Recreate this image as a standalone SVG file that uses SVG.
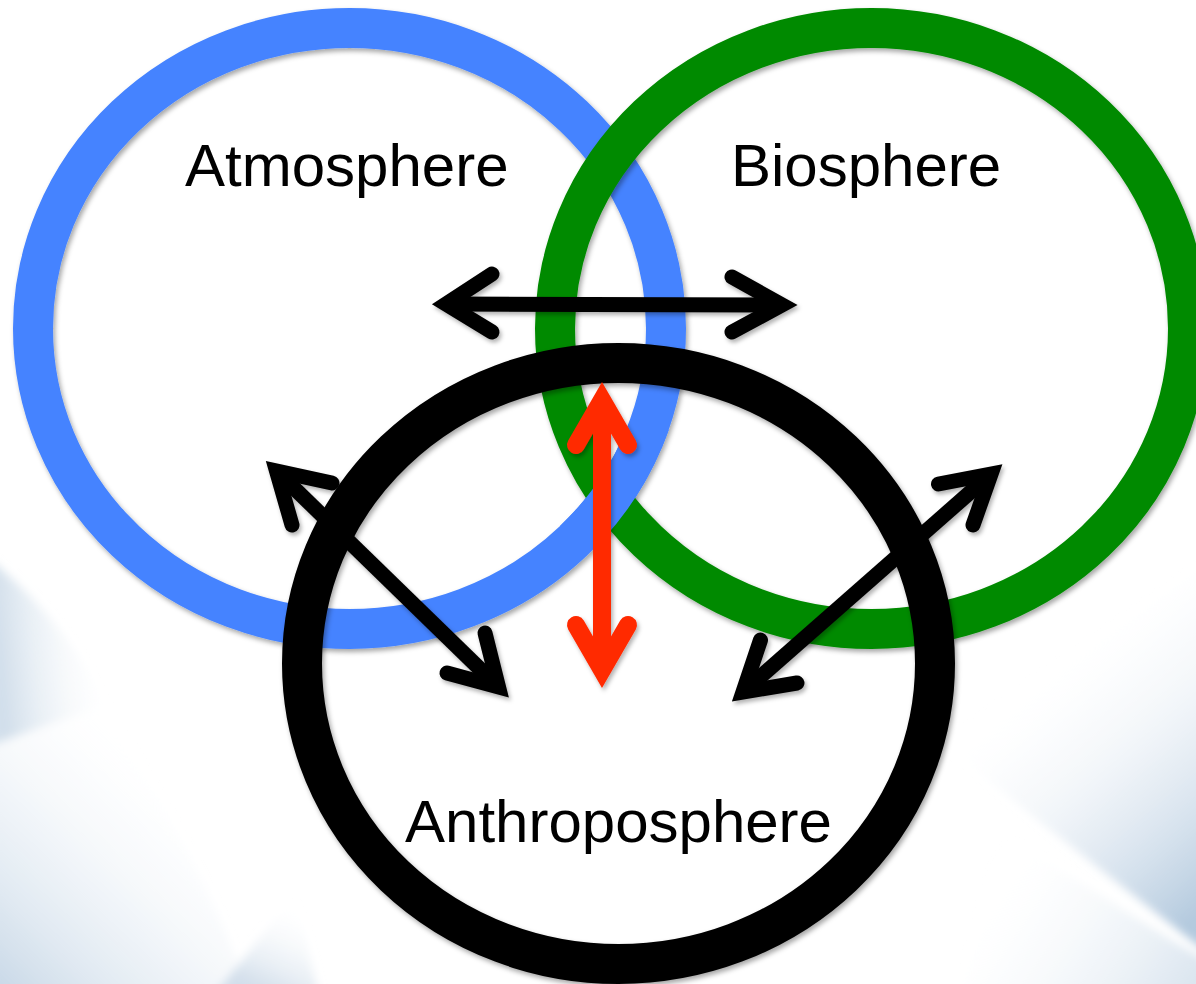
<svg xmlns="http://www.w3.org/2000/svg" width="1196" height="984" viewBox="0 0 1196 984">
  <defs>
    <style>
      .ring { fill: none; stroke-width: 40; }
      .label { font-family: "Liberation Sans", Arial, sans-serif; font-size: 60px; fill: #000; }
      .arrow { fill: none; stroke: #000; stroke-width: 15; stroke-linejoin: miter; stroke-miterlimit: 6; stroke-linecap: round; }
      .shaft { fill: none; stroke: #000; stroke-width: 15; stroke-linecap: butt; }
      .red { stroke: #FF2A00; stroke-width: 18; }
    </style>
    <filter id="sh" x="-10%" y="-10%" width="120%" height="120%">
      <feDropShadow dx="2" dy="3" stdDeviation="2.5" flood-color="#000" flood-opacity="0.35"/>
    </filter>
    <filter id="sha" x="-20%" y="-20%" width="140%" height="140%">
      <feDropShadow dx="2" dy="3" stdDeviation="2" flood-color="#000" flood-opacity="0.3"/>
    </filter>
    <filter id="soft" x="-20%" y="-20%" width="140%" height="140%">
      <feGaussianBlur stdDeviation="5"/>
    </filter>
    <linearGradient id="gBR" x1="1000" y1="690" x2="1196" y2="920" gradientUnits="userSpaceOnUse">
      <stop offset="0" stop-color="#ffffff" stop-opacity="0"/>
      <stop offset="1" stop-color="#b3c9de"/>
    </linearGradient>
    <linearGradient id="gBR2" x1="1000" y1="850" x2="1196" y2="984" gradientUnits="userSpaceOnUse">
      <stop offset="0" stop-color="#ffffff" stop-opacity="0"/>
      <stop offset="1" stop-color="#dae5ef"/>
    </linearGradient>
    <linearGradient id="gL" x1="110" y1="640" x2="0" y2="650" gradientUnits="userSpaceOnUse">
      <stop offset="0" stop-color="#ffffff" stop-opacity="0"/>
      <stop offset="1" stop-color="#d2dfeb"/>
    </linearGradient>
    <linearGradient id="gBL" x1="200" y1="780" x2="0" y2="984" gradientUnits="userSpaceOnUse">
      <stop offset="0" stop-color="#ffffff" stop-opacity="0"/>
      <stop offset="1" stop-color="#cad9e8"/>
    </linearGradient>
    <linearGradient id="gB" x1="290" y1="900" x2="250" y2="984" gradientUnits="userSpaceOnUse">
      <stop offset="0" stop-color="#ffffff" stop-opacity="0"/>
      <stop offset="1" stop-color="#d3dfeb"/>
    </linearGradient>
    <clipPath id="lowCross">
      <rect x="560" y="430" width="130" height="110"/>
    </clipPath>
  </defs>

  <g id="background">
    <rect x="0" y="0" width="1196" height="984" fill="#ffffff"/>
    <g filter="url(#soft)">
      <path d="M1210,560 C1130,620 1030,680 945,745 C1030,815 1120,885 1210,955 Z" fill="url(#gBR)"/>
      <path d="M1000,835 C1090,885 1150,930 1210,962 L1210,1000 L960,1000 Z" fill="url(#gBR2)"/>
      <path d="M-10,560 C40,600 80,650 105,705 L-10,745 Z" fill="url(#gL)"/>
      <path d="M-10,745 L105,705 C160,800 220,900 250,1000 L-10,1000 Z" fill="url(#gBL)"/>
      <path d="M210,1000 L295,895 L320,1000 Z" fill="url(#gB)"/>
    </g>
  </g>

  <g id="atmosphere">
    <ellipse class="ring" cx="349.5" cy="328.5" rx="316.5" ry="300.5" stroke="#4583FF" filter="url(#sh)"/>
    <text class="label" x="185" y="186">Atmosphere</text>
  </g>

  <g id="biosphere">
    <ellipse class="ring" cx="871.5" cy="328.5" rx="316.5" ry="300.5" stroke="#028A02" filter="url(#sh)"/>
    <text class="label" x="731" y="186">Biosphere</text>
  </g>

  <g id="atmosphere-overlap" clip-path="url(#lowCross)">
    <ellipse class="ring" cx="349.5" cy="328.5" rx="316.5" ry="300.5" stroke="#4583FF"/>
  </g>

  <g id="anthroposphere">
    <ellipse class="ring" cx="618.5" cy="663.5" rx="316.5" ry="300.5" stroke="#000" filter="url(#sh)"/>
    <text class="label" x="405" y="842">Anthroposphere</text>
  </g>

  <g id="connectors" filter="url(#sha)">
    <g id="atmo-bio">
      <path class="shaft" d="M446,304 L782,305"/>
      <path class="arrow" d="M492,274 L446,304 L492,332"/>
      <path class="arrow" d="M732,277 L782,305 L732,332"/>
    </g>
    <g id="atmo-anthro">
      <path class="shaft" d="M276.5,471 L498.5,687"/>
      <path class="arrow" d="M332,483 L276.5,471 L292,525"/>
      <path class="arrow" d="M485,633 L498.5,687 L447,673"/>
    </g>
    <g id="bio-anthro">
      <path class="shaft" d="M743,692 L991,474"/>
      <path class="arrow" d="M938.5,484 L991,474 L973,525"/>
      <path class="arrow" d="M760.5,640 L743,692 L797,683"/>
    </g>
    <g id="lens-anthro">
      <path class="shaft red" d="M602,400 L602,670"/>
      <path class="arrow red" d="M576,445 L602,400 L628,445"/>
      <path class="arrow red" d="M576,625 L602,670 L628,625"/>
    </g>
  </g>
</svg>
